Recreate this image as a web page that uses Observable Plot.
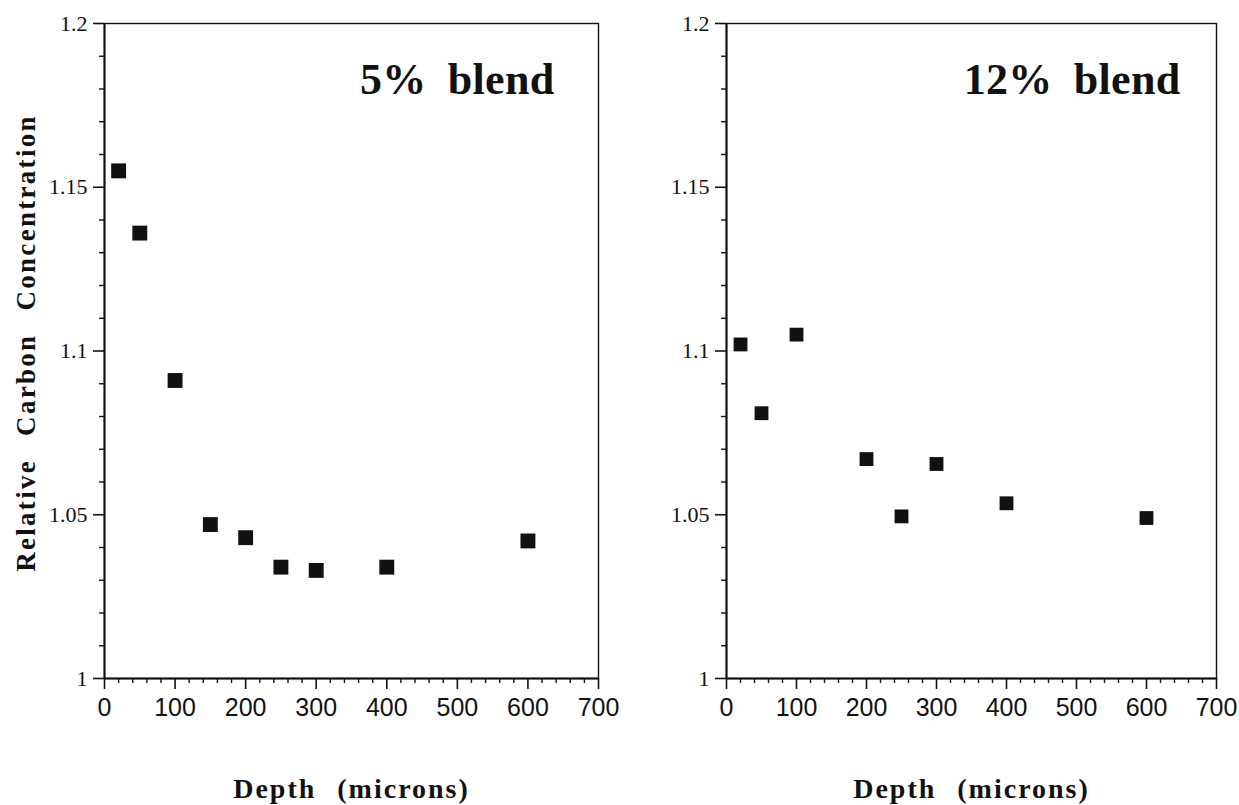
<!DOCTYPE html>
<html>
<head>
<meta charset="utf-8">
<script src="https://cdn.jsdelivr.net/npm/d3@7"></script>
<script src="https://cdn.jsdelivr.net/npm/@observablehq/plot@0.6"></script>
<style>
  html, body { margin: 0; padding: 0; background: #fff; }
  #wrap { position: relative; width: 1239px; height: 805px; overflow: hidden; }
  .panel { position: absolute; top: 0; }
</style>
</head>
<body>
<div id="wrap">
  <div class="panel" id="left" style="left:0px"></div>
  <div class="panel" id="right" style="left:620px"></div>
</div>
<script>
// ---- data ----
const depth5 = [20, 50, 100, 150, 200, 250, 300, 400, 600];
const conc5 = [1.155, 1.136, 1.091, 1.047, 1.043, 1.034, 1.033, 1.034, 1.042];
const depth12 = [20, 50, 100, 200, 250, 300, 400, 600];
const conc12 = [1.102, 1.081, 1.105, 1.067, 1.0495, 1.0655, 1.0535, 1.049];
const xTicks = [0, 100, 200, 300, 400, 500, 600, 700];
const xMinorTicks = [20, 40, 60, 80, 120, 140, 160, 180, 220, 240, 260, 280, 320, 340, 360, 380, 420, 440, 460, 480, 520, 540, 560, 580, 620, 640, 660, 680];
const yTicks = [1, 1.05, 1.1, 1.15, 1.2];
const yTickLabels = ["1", "1.05", "1.1", "1.15", "1.2"];
const yMinorTicks = [1.01, 1.02, 1.03, 1.04, 1.06, 1.07, 1.08, 1.09, 1.11, 1.12, 1.13, 1.14, 1.16, 1.17, 1.18, 1.19];
const titles = ["5% blend", "12% blend"];
const xLabel = "Depth (microns)";
const yLabel = "Relative Carbon Concentration";

const ink = "#111";
const serif = "'Liberation Serif', 'Times New Roman', serif";
const sans = "'Liberation Sans', Arial, sans-serif";
const H = 805, MT = 23, MB = 127;

function panel({depth, conc, title, width, marginLeft, marginRight, r, titleDx, showYLabel}) {
  const data = depth.map((d, i) => ({depth: d, conc: conc[i]}));
  const fw = width - marginLeft - marginRight;   // frame width in px
  const fh = H - MT - MB;                        // frame height in px
  const marks = [
    Plot.frame({stroke: ink, strokeWidth: 1.4}),
    // y ticks pointing outward (left)
    Plot.tickY(yMinorTicks, {y: (d) => d, insetLeft: -5, insetRight: fw, stroke: ink, strokeWidth: 1.4}),
    Plot.tickY(yTicks, {y: (d) => d, insetLeft: -11, insetRight: fw, stroke: ink, strokeWidth: 1.6}),
    // x ticks pointing outward (down)
    Plot.tickX(xMinorTicks, {x: (d) => d, insetBottom: -5, insetTop: fh, stroke: ink, strokeWidth: 1.4}),
    Plot.tickX(xTicks, {x: (d) => d, insetBottom: -11, insetTop: fh, stroke: ink, strokeWidth: 1.6}),
    // tick labels
    Plot.axisY(yTicks, {
      label: null, tickSize: 0, tickPadding: 17,
      tickFormat: (d) => yTickLabels[yTicks.indexOf(d)],
      fontFamily: serif, fontSize: 22, fill: ink
    }),
    Plot.axisX(xTicks, {
      label: null, tickSize: 0, tickPadding: 20,
      tickFormat: (d) => String(d),
      fontFamily: sans, fontSize: 25, fill: ink
    }),
    Plot.ruleY([1], {stroke: ink, strokeWidth: 2}),
    Plot.ruleX([0], {stroke: ink, strokeWidth: 2}),
    Plot.dot(data, {x: "depth", y: "conc", symbol: "square", r, fill: ink, stroke: null}),
    Plot.text([title], {
      frameAnchor: "top-right", dx: titleDx, dy: 70, lineAnchor: "bottom",
      fontFamily: serif, fontWeight: "bold", fontSize: 44, fill: ink
    }),
    Plot.text([xLabel], {
      frameAnchor: "bottom", dy: 111, lineAnchor: "middle", textAnchor: "middle",
      fontFamily: serif, fontWeight: "bold", fontSize: 28, fill: ink
    })
  ];
  if (showYLabel) {
    marks.push(Plot.text([yLabel], {
      frameAnchor: "left", dx: -78, dy: -8, rotate: -90, lineAnchor: "middle", textAnchor: "middle",
      fontFamily: serif, fontWeight: "bold", fontSize: 27, fill: ink
    }));
  }
  const chart = Plot.plot({
    width, height: H,
    marginLeft, marginRight, marginTop: MT, marginBottom: MB,
    style: {background: "#fff", color: ink, overflow: "visible"},
    x: {domain: [0, 700], axis: null},
    y: {domain: [1, 1.2], axis: null},
    marks
  });
  d3.select(chart).selectAll("text").each(function () {
    const t = this.textContent;
    if (t === xLabel) { this.style.letterSpacing = "2px"; this.style.wordSpacing = "12px"; }
    if (t === yLabel) { this.style.letterSpacing = "2.3px"; this.style.wordSpacing = "14px"; }
    if (titles.includes(t)) { this.style.wordSpacing = "10px"; this.style.letterSpacing = "0.3px"; }
  });
  return chart;
}

document.getElementById("left").appendChild(panel({
  depth: depth5, conc: conc5, title: titles[0], width: 620,
  marginLeft: 104, marginRight: 22, r: 8.4, titleDx: -44, showYLabel: true
}));
document.getElementById("right").appendChild(panel({
  depth: depth12, conc: conc12, title: titles[1], width: 619,
  marginLeft: 106, marginRight: 23, r: 7.8, titleDx: -36, showYLabel: false
}));
</script>
</body>
</html>
